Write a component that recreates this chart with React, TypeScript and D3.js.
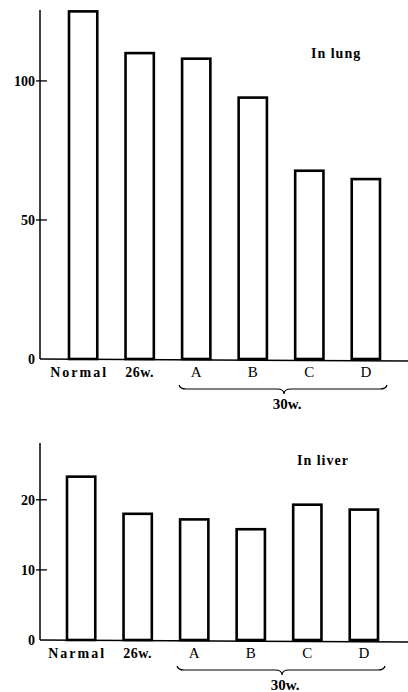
import React from "react";
import * as d3 from "d3";

const lungCategories = ["Normal", "26w.", "A", "B", "C", "D"];
const lungValues = [125, 110, 108, 94, 67.7, 64.7];
const lungTicks = [0, 50, 100];

const liverCategories = ["Narmal", "26w.", "A", "B", "C", "D"];
const liverValues = [23.3, 18.0, 17.2, 15.8, 19.3, 18.6];
const liverTicks = [0, 10, 20];

const groupLabel = "30w.";

const FONT = "'Liberation Serif', 'DejaVu Serif', serif";

type PanelProps = {
  categories: string[];
  values: number[];
  ticks: number[];
  yMax: number;
  y0: number;
  yTop: number;
  xLeft: number;
  xRight: number;
  title: string;
  titleX: number;
  titleY: number;
};

function Panel(p: PanelProps) {
  const x = d3
    .scaleBand<string>()
    .domain(p.categories)
    .range([p.xLeft, p.xRight])
    .paddingInner(0.5)
    .paddingOuter(0);
  const y = d3.scaleLinear().domain([0, p.yMax]).range([p.y0, p.yTop]);
  const bw = x.bandwidth();
  const axisX = 40;

  const bx0 = (x(p.categories[2]) as number) - 3;
  const bx1 = (x(p.categories[5]) as number) + bw + 7;
  const bTip = (bx0 + bx1) / 2 + 1;
  const byTop = p.y0 + 26;
  const by = p.y0 + 30;
  const byTip = p.y0 + 35;
  const brace = `M${bx0},${byTop} Q${bx0 + 1},${by} ${bx0 + 7},${by} L${bTip - 7},${by} Q${bTip},${by} ${bTip},${byTip} Q${bTip},${by} ${bTip + 7},${by} L${bx1 - 7},${by} Q${bx1 - 1},${by} ${bx1},${byTop}`;

  return (
    <g>
      <line x1={axisX} x2={axisX} y1={p.yTop} y2={p.y0} stroke="#000" strokeWidth={1.5} />
      <line x1={axisX} x2={408} y1={p.y0} y2={p.y0 + 2} stroke="#000" strokeWidth={1.5} />
      {p.ticks.map((t) => (
        <g key={t}>
          {t !== 0 && (
            <line x1={axisX - 4} x2={axisX + 7} y1={y(t)} y2={y(t)} stroke="#000" strokeWidth={1.3} />
          )}
          <text
            x={35}
            y={y(t)}
            dy="0.35em"
            textAnchor="end"
            fontFamily={FONT}
            fontWeight="bold"
            fontSize={14}
          >
            {t}
          </text>
        </g>
      ))}
      {p.categories.map((c, i) => (
        <rect
          key={c}
          x={x(c) as number}
          y={y(p.values[i])}
          width={bw}
          height={p.y0 - y(p.values[i])}
          fill="#fff"
          stroke="#000"
          strokeWidth={2.6}
        />
      ))}
      {p.categories.map((c, i) => (
        <text
          key={"l" + c}
          x={(x(c) as number) + bw / 2 + (i === 0 ? -4 : 0)}
          y={p.y0 + 18}
          textAnchor="middle"
          fontFamily={FONT}
          fontWeight={i < 2 ? "bold" : "normal"}
          fontSize={i < 2 ? 14 : 15}
          letterSpacing={i === 0 ? 2 : i === 1 ? 0.5 : 0}
        >
          {c}
        </text>
      ))}
      <path d={brace} fill="none" stroke="#000" strokeWidth={1.2} />
      <text
        x={bTip + 3}
        y={p.y0 + 50}
        textAnchor="middle"
        fontFamily={FONT}
        fontWeight="bold"
        fontSize={15}
      >
        {groupLabel}
      </text>
      <text
        x={p.titleX}
        y={p.titleY}
        fontFamily={FONT}
        fontWeight="bold"
        fontSize={14}
        letterSpacing={1}
      >
        {p.title}
      </text>
    </g>
  );
}

export default function App() {
  return (
    <svg
      width={408}
      height={692}
      style={{ position: "absolute", left: 0, top: 0, background: "#fff" }}
    >
      <rect width={408} height={692} fill="#fff" />
      <Panel
        categories={lungCategories}
        values={lungValues}
        ticks={lungTicks}
        yMax={125.5}
        y0={359}
        yTop={10}
        xLeft={69}
        xRight={380}
        title="In lung"
        titleX={311}
        titleY={58}
      />
      <Panel
        categories={liverCategories}
        values={liverValues}
        ticks={liverTicks}
        yMax={28.1}
        y0={640}
        yTop={443}
        xLeft={67}
        xRight={378}
        title="In liver"
        titleX={297}
        titleY={465}
      />
    </svg>
  );
}
